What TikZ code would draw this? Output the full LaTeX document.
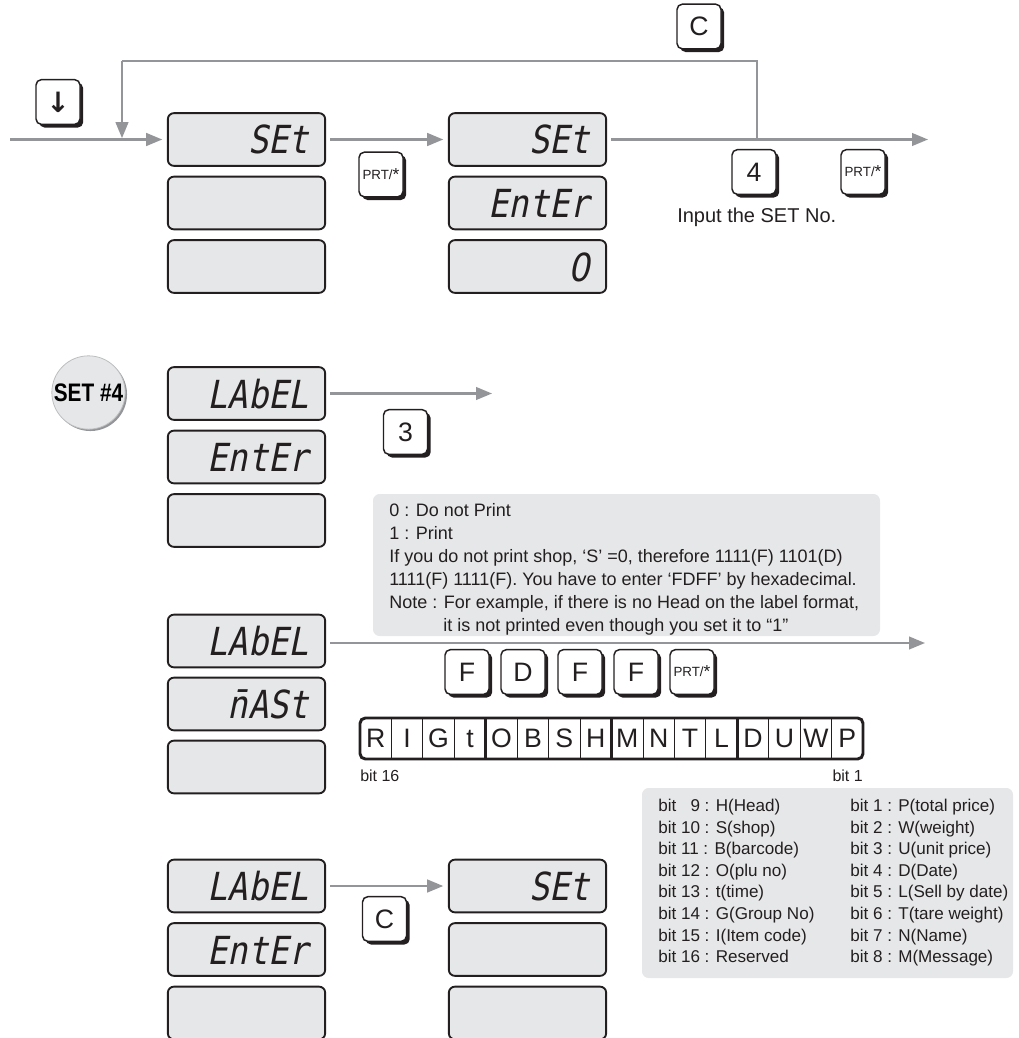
\documentclass[tikz,border=0pt]{standalone}
\usepackage{fontspec}
\setmainfont{Liberation Sans}
\newfontfamily\lcdfont[FakeSlant=0.2,FakeStretch=0.87]{DejaVu Sans Mono}
\newfontfamily\lcdzero[FakeSlant=0.2,FakeStretch=0.87]{DejaVu Sans}
\newfontfamily\symfont{DejaVu Sans}
\usetikzlibrary{arrows.meta,calc,shadows}
\definecolor{lcdgray}{HTML}{E6E7E8}
\definecolor{arrgray}{HTML}{939598}
\definecolor{ink}{HTML}{231F20}
\definecolor{rimgray}{HTML}{BCBEC0}
\begin{document}
\begin{tikzpicture}[x=0.75pt,y=-0.75pt,
  lcd/.style={draw=ink, line width=1.4pt, fill=lcdgray, rounded corners=4.5pt,
    minimum width=118pt, minimum height=39.5pt, inner sep=0pt},
  lcdtxt/.style={font=\lcdfont\fontsize{29pt}{29pt}\selectfont, anchor=base east,
    inner sep=0pt, text=ink},
  key/.style={draw=ink, line width=1.1pt, fill=white, rounded corners=4pt,
    minimum width=33pt, minimum height=33.5pt, inner sep=0pt, text=ink,
    font=\fontsize{20pt}{20pt}\selectfont,
    general shadow={fill=ink, shadow xshift=2.4pt, shadow yshift=-2.4pt}},
  prt/.style={key, font=\fontsize{10pt}{10pt}\selectfont},
  arr/.style={draw=arrgray, line width=1.6pt, -{Triangle[length=12pt,width=9.5pt]}},
  plain/.style={draw=arrgray, line width=1.6pt},
  txt/.style={font=\fontsize{13.5pt}{16pt}\selectfont, inner sep=0pt, text=ink, anchor=base west},
  bittxt/.style={txt, font=\fontsize{12.8pt}{15pt}\selectfont},
  reg/.style={font=\fontsize{20pt}{20pt}\selectfont, inner sep=0pt, text=ink},
  infobox/.style={fill=lcdgray, rounded corners=5pt}
]
\useasboundingbox (0,0) rectangle (1018,1038);

% ---------- top row ----------
\node[key, font=\symfont\bfseries\fontsize{21pt}{21pt}\selectfont] (kdown) at (58,102) {↓};
\node[lcd] (d1a) at (246.5,139.5) {};
\node[lcd] (d1b) at (246.5,203) {};
\node[lcd] (d1c) at (246.5,266.5) {};
\node[lcdtxt] (t1a) at ($(d1a.east)+(-17,14.5)$) {SEt};
\node[prt] (kprt1) at (381,174.5) {PRT/\raisebox{-1pt}{\fontsize{13pt}{13pt}\selectfont *}};
\node[lcd] (d2a) at (527.5,139.5) {};
\node[lcd] (d2b) at (527.5,203) {};
\node[lcd] (d2c) at (527.5,266.5) {};
\node[lcdtxt] (t2a) at ($(d2a.east)+(-17,14.5)$) {SEt};
\node[lcdtxt] (t2b) at ($(d2b.east)+(-17,14.5)$) {EntEr};
\node[lcdtxt, font=\lcdzero\fontsize{29pt}{29pt}\selectfont] (t2c) at ($(d2c.east)+(-17,14.5)$) {0};
\node[key] (kc1) at (699,26.5) {C};
\node[key] (k4) at (754,172) {4};
\node[prt] (kprt2) at (863,172) {PRT/\raisebox{-1pt}{\fontsize{13pt}{13pt}\selectfont *}};
\node[txt, anchor=west, font=\fontsize{15pt}{15pt}\selectfont] (inp) at (677,217) {Input the SET No.};

\coordinate (in) at (10,139.5);
\coordinate (out1) at (928,139.5);
\coordinate (j) at (757,139.5);
\coordinate (jt) at (757,61);
\coordinate (lt) at (122,61);
\coordinate (lb) at (122,139.5);
\draw[arr, shorten >=3.5pt] (in) -- (d1a.west);
\draw[arr, shorten <=3pt, shorten >=3.5pt] (d1a.east) -- (d2a.west);
\draw[arr, shorten <=3pt] (d2a.east) -- (out1);
\draw[plain] (j) -- (jt) -- (lt);
\draw[arr, shorten >=1pt] (lt) -- (lb);

% ---------- SET #4 ----------
\node[circle, fill=lcdgray, draw=rimgray, line width=0.6pt, minimum size=55pt, inner sep=0pt,
  general shadow={fill=arrgray, shadow xshift=1.4pt, shadow yshift=-1.4pt}] (set4) at (88.5,392.5)
  {\scalebox{0.82}[1]{\bfseries\fontsize{19pt}{19pt}\selectfont SET \#4}};

\node[lcd] (d3a) at (246.5,393.5) {};
\node[lcd] (d3b) at (246.5,457) {};
\node[lcd] (d3c) at (246.5,520.5) {};
\node[lcdtxt] (t3a) at ($(d3a.east)+(-17,14.5)$) {LAbEL};
\node[lcdtxt] (t3b) at ($(d3b.east)+(-17,14.5)$) {EntEr};
\coordinate (out3) at (492,393.5);
\draw[arr, shorten <=3pt] (d3a.east) -- (out3);
\node[key] (k3) at (405.5,432) {3};

% ---------- note box ----------
\fill[infobox] (373,494) rectangle (880,636);
\node[txt] (n1) at (389,516.5) {0 : Do not Print};
\node[txt] (n2) at (389,539.5) {1 : Print};
\node[txt] (n3) at (389,562.5) {If you do not print shop, ‘S’ =0, therefore 1111(F) 1101(D)};
\node[txt] (n4) at (389,585.5) {1111(F) 1111(F). You have to enter ‘FDFF’ by hexadecimal.};
\node[txt] (n5) at (389,608.5) {Note : For example, if there is no Head on the label format,};
\node[txt] (n6) at (443,631.5) {it is not printed even though you set it to “1”};

% ---------- mask row ----------
\node[lcd] (d4a) at (246.5,641) {};
\node[lcd] (d4b) at (246.5,704) {};
\node[lcd] (d4c) at (246.5,767) {};
\node[lcdtxt] (t4a) at ($(d4a.east)+(-17,14.5)$) {LAbEL};
\node[lcdtxt] (t4b) at ($(d4b.east)+(-17,14.5)$) {\=nASt};
\coordinate (out4) at (925,643);
\draw[arr, shorten <=3pt] (d4a.east |- out4) -- (out4);

\node[key] (kf1) at (467,672) {F};
\node[key] (kd) at (523,672) {D};
\node[key] (kf2) at (580,672) {F};
\node[key] (kf3) at (636,672) {F};
\node[prt] (kprt3) at (692,672) {PRT/\raisebox{-1pt}{\fontsize{13pt}{13pt}\selectfont *}};

% ---------- bit register ----------
\foreach \i/\L in {0/R,1/I,2/G,3/t,4/O,5/B,6/S,7/H,8/M,9/N,10/T,11/L,12/D,13/U,14/W,15/P}{
  \node[reg] (b\i) at (360+15.72+\i*31.4375,738.5) {\L};
}
\foreach \i in {1,2,3,5,6,7,9,10,11,13,14,15}{
  \draw[ink, line width=0.6pt] (360+\i*31.4375,718) -- (360+\i*31.4375,759);
}
\foreach \i in {4,8,12}{
  \draw[ink, line width=2.2pt] (360+\i*31.4375,718) -- (360+\i*31.4375,759);
}
\draw[ink, line width=2.2pt, rounded corners=4pt] (360,718) rectangle (863,759);
\node[txt, font=\fontsize{12pt}{12pt}\selectfont] (bit16) at (360,781) {bit 16};
\node[txt, anchor=base east, font=\fontsize{12pt}{12pt}\selectfont] (bit1) at (863,781) {bit 1};

% ---------- bit info box ----------
\fill[infobox] (642,788) rectangle (1013,978);
\foreach \k/\a/\b in {0/bit \phantom{1}9 : H(Head)/bit 1 : P(total price),
  1/bit 10 : S(shop)/bit 2 : W(weight),
  2/bit 11 : B(barcode)/bit 3 : U(unit price),
  3/bit 12 : O(plu no)/bit 4 : D(Date),
  4/bit 13 : t(time)/bit 5 : L(Sell by date),
  5/bit 14 : G(Group No)/bit 6 : T(tare weight),
  6/bit 15 : I(Item code)/bit 7 : N(Name),
  7/bit 16 : Reserved/bit 8 : M(Message)}{
  \node[bittxt] (il\k) at (658,811.5+\k*21.6) {\a};
  \node[bittxt] (ir\k) at (850,811.5+\k*21.6) {\b};
}

% ---------- bottom row ----------
\node[lcd] (d5a) at (246.5,886) {};
\node[lcd] (d5b) at (246.5,949.5) {};
\node[lcd] (d5c) at (246.5,1013) {};
\node[lcdtxt] (t5a) at ($(d5a.east)+(-17,14.5)$) {LAbEL};
\node[lcdtxt] (t5b) at ($(d5b.east)+(-17,14.5)$) {EntEr};
\node[lcd] (d6a) at (527.5,886) {};
\node[lcd] (d6b) at (527.5,949.5) {};
\node[lcd] (d6c) at (527.5,1013) {};
\node[lcdtxt] (t6a) at ($(d6a.east)+(-17,14.5)$) {SEt};
\draw[arr, shorten <=3pt, shorten >=3.5pt] (d5a.east) -- (d6a.west);
\node[key] (kc2) at (384.5,919) {C};
\end{tikzpicture}
\end{document}
